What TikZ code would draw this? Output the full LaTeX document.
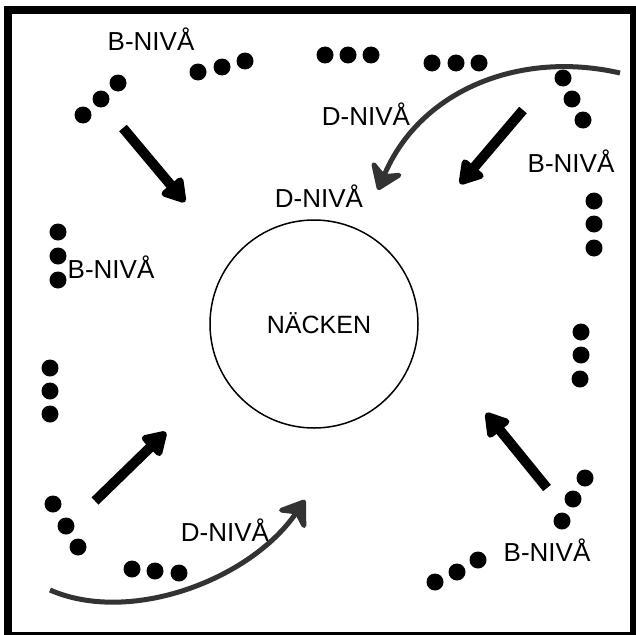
\documentclass[tikz,border=0pt]{standalone}
\usepackage{fontspec}
\setmainfont{Liberation Sans}
\usetikzlibrary{arrows.meta}
\definecolor{curvegray}{HTML}{333333}
\begin{document}
\begin{tikzpicture}[x=1pt,y=-1pt,
  dot/.style={circle,fill=black,inner sep=0pt,minimum size=17pt},
  lbl/.style={font=\fontsize{26}{30}\selectfont,inner sep=0pt,anchor=base},
  bigarrow/.style={line width=10pt,-{Triangle[length=26pt,width=30pt,round]}},
  curvearrow/.style={draw=curvegray,line width=5pt,-{Stealth[length=30pt,width=42pt,inset=11pt,round]}},
]
\useasboundingbox (0,0) rectangle (636,634);
\fill[white] (0,0) rectangle (636,634);
% frame
\draw[line width=8pt] (8,10.5) rectangle (634,636);
% circle
\node[draw,circle,line width=1.5pt,minimum size=208pt,inner sep=0pt] (neck) at (314,324) {};
% dots
\foreach \n/\x/\y in {a1/83/115,a2/101/99,a3/118/83,
  b1/198/72,b2/222/67,b3/245/61,
  c1/325/55,c2/348/55,c3/371/55,
  e1/432/63,e2/456/63,e3/479/63,
  f1/563/78,f2/572/99,f3/583/120,
  g1/594/201,g2/594/224,g3/594/248,
  h1/581/332,h2/581/355,h3/580/379,
  i1/585/478,i2/573/499,i3/562/521,
  j1/478/560,j2/457/572,j3/435/582,
  k1/53/504,k2/66/526,k3/78/547,
  l1/132/569,l2/155/571,l3/179/573,
  m1/58/232,m2/58/256,m3/58/280,
  o1/50/368,o2/50/391,o3/50/414}
  \node[dot] (\n) at (\x,\y) {};
% labels
\node[lbl] (t1) at (151,51) {B-NIVÅ};
\node[lbl] (t2) at (366,125) {D-NIVÅ};
\node[lbl] (t3) at (571,172) {B-NIVÅ};
\node[lbl] (t4) at (319,207) {D-NIVÅ};
\node[lbl] (t5) at (111,278) {B-NIVÅ};
\node[lbl,font=\fontsize{25}{30}\selectfont] (t6) at (319,333) {NÄCKEN};
\node[lbl] (t7) at (225,541) {D-NIVÅ};
\node[lbl] (t8) at (547,561) {B-NIVÅ};
% straight arrows
\coordinate (s1) at (123,128); \coordinate (e1t) at (185,202);
\coordinate (s2) at (523,110); \coordinate (e2t) at (460,184);
\coordinate (s3) at (95,501);  \coordinate (e3t) at (166,432);
\coordinate (s4) at (547,488); \coordinate (e4t) at (486,413);
\draw[bigarrow] (s1) -- (e1t);
\draw[bigarrow] (s2) -- (e2t);
\draw[bigarrow] (s3) -- (e3t);
\draw[bigarrow] (s4) -- (e4t);
% curved arrows
\coordinate (cs1) at (620,73); \coordinate (ce1) at (378,190);
\coordinate (cs2) at (50,590); \coordinate (ce2) at (305,500);
\draw[curvearrow] (cs1) .. controls (520,50) and (420,90) .. (ce1);
\draw[curvearrow] (cs2) .. controls (130,625) and (250,580) .. (ce2);
\end{tikzpicture}
\end{document}
